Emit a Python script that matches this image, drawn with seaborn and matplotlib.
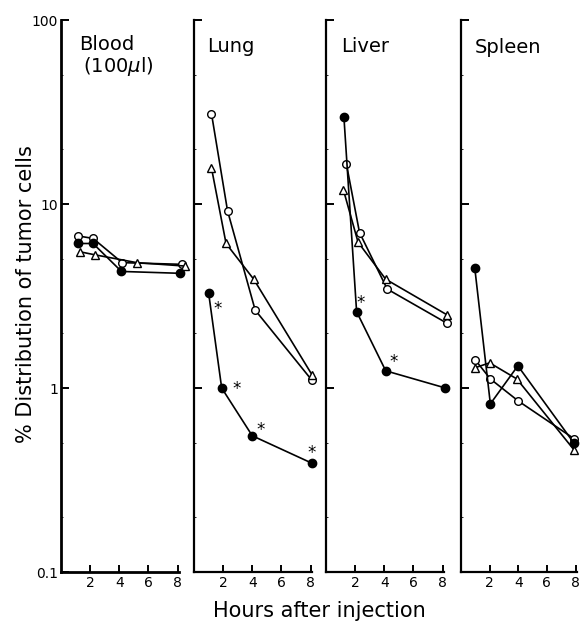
import matplotlib
matplotlib.use("Agg")
import matplotlib.pyplot as plt
import seaborn as sns
from matplotlib.ticker import FixedLocator, FixedFormatter, LogLocator, NullFormatter

# ---------------- data ----------------
organs = ["Blood", "Lung", "Liver", "Spleen"]

blood_open_t = [1.2, 2.2, 4.2, 8.3]
blood_open_v = [6.7, 6.5, 4.8, 4.7]
blood_fill_t = [1.2, 2.2, 4.15, 8.2]
blood_fill_v = [6.1, 6.1, 4.3, 4.2]
blood_tri_t = [1.3, 2.3, 5.2, 8.5]
blood_tri_v = [5.5, 5.3, 4.8, 4.6]

lung_open_t = [1.2, 2.3, 4.2, 8.1]
lung_open_v = [31.0, 9.2, 2.65, 1.1]
lung_tri_t = [1.2, 2.2, 4.1, 8.1]
lung_tri_v = [15.7, 6.1, 3.9, 1.18]
lung_fill_t = [1.0, 1.9, 4.0, 8.1]
lung_fill_v = [3.3, 1.0, 0.55, 0.39]

liver_open_t = [1.4, 2.3, 4.2, 8.3]
liver_open_v = [16.5, 7.0, 3.45, 2.25]
liver_tri_t = [1.2, 2.2, 4.1, 8.3]
liver_tri_v = [11.9, 6.2, 3.9, 2.5]
liver_fill_t = [1.23, 2.1, 4.1, 8.2]
liver_fill_v = [29.7, 2.6, 1.24, 1.0]

spleen_open_t = [1.0, 2.05, 4.0, 7.9]
spleen_open_v = [1.42, 1.12, 0.85, 0.53]
spleen_tri_t = [1.0, 2.0, 3.9, 7.9]
spleen_tri_v = [1.29, 1.37, 1.12, 0.46]
spleen_fill_t = [0.96, 2.05, 3.97, 7.9]
spleen_fill_v = [4.5, 0.82, 1.32, 0.50]

# significance marks: (panel index, index of filled point)
star_panel = [1, 1, 1, 1, 2, 2, 2]
star_point = [0, 1, 2, 3, 1, 2, 3]

y_ticks = [0.1, 1, 10, 100]
y_tick_labels = ["0.1", "1", "10", "100"]
x_ticks = [2, 4, 6, 8]
x_tick_labels = ["2", "4", "6", "8"]

series = {
    "Blood": [(blood_open_t, blood_open_v, "open"), (blood_tri_t, blood_tri_v, "tri"),
              (blood_fill_t, blood_fill_v, "fill")],
    "Lung": [(lung_open_t, lung_open_v, "open"), (lung_tri_t, lung_tri_v, "tri"),
             (lung_fill_t, lung_fill_v, "fill")],
    "Liver": [(liver_open_t, liver_open_v, "open"), (liver_tri_t, liver_tri_v, "tri"),
              (liver_fill_t, liver_fill_v, "fill")],
    "Spleen": [(spleen_open_t, spleen_open_v, "open"), (spleen_tri_t, spleen_tri_v, "tri"),
               (spleen_fill_t, spleen_fill_v, "fill")],
}
filled = [(blood_fill_t, blood_fill_v), (lung_fill_t, lung_fill_v),
          (liver_fill_t, liver_fill_v), (spleen_fill_t, spleen_fill_v)]

# ---------------- style ----------------
sns.set_theme(style="ticks")
plt.rcParams["font.family"] = ["DejaVu Sans"]
plt.rcParams["mathtext.fontset"] = "dejavusans"
plt.rcParams["text.color"] = "black"
plt.rcParams["axes.labelcolor"] = "black"
plt.rcParams["xtick.color"] = "black"
plt.rcParams["ytick.color"] = "black"

W, H = 581, 623
fig = plt.figure(figsize=(W / 100, H / 100), dpi=100)
fig.patch.set_facecolor("white")

panel_left_px = [61, 194, 326, 461]
panel_w_px = [118, 118, 118, 116]
bottom_px = 51
height_px = 552

marker_style = {
    "open": dict(marker="o", markerfacecolor="white", markersize=5.5),
    "tri": dict(marker="^", markerfacecolor="white", markersize=5.5),
    "fill": dict(marker="o", markerfacecolor="black", markersize=6),
}

title_pos = {
    "Blood": (0.153, 0.9457),
    "Lung": (0.11, 0.942),
    "Liver": (0.127, 0.942),
    "Spleen": (0.12, 0.940),
}

star_offsets = [(9, -11), (15, 4), (8, 11), (0, 15), (4, 14), (8, 14), (0, 12)]

axes = []
for i, organ in enumerate(organs):
    ax = fig.add_axes([panel_left_px[i] / W, bottom_px / H, panel_w_px[i] / W, height_px / H])
    ax.patch.set_alpha(0)
    ax.set_yscale("log")
    ax.set_ylim(0.1, 100)
    ax.set_xlim(0, 8.1)
    for s in ["top", "right"]:
        ax.spines[s].set_visible(False)
    for s in ["left", "bottom"]:
        ax.spines[s].set_color("black")
        ax.spines[s].set_linewidth(2.0 if i == 0 else 1.6)

    ax.yaxis.set_major_locator(FixedLocator(y_ticks))
    ax.yaxis.set_major_formatter(FixedFormatter(y_tick_labels))
    ax.yaxis.set_minor_locator(LogLocator(base=10, subs=[2, 5]))
    ax.yaxis.set_minor_formatter(NullFormatter())
    ax.xaxis.set_major_locator(FixedLocator(x_ticks))
    ax.xaxis.set_major_formatter(FixedFormatter(x_tick_labels))

    ax.tick_params(axis="y", which="major", direction="in", length=6, width=1.4,
                   colors="black", labelsize=10, pad=2, labelleft=(i == 0))
    ax.tick_params(axis="y", which="minor", direction="in", length=1.5, width=0.6, colors="black")
    ax.tick_params(axis="x", which="major", direction="in", length=5, width=1.4,
                   colors="black", labelsize=10, pad=3)

    for t, v, kind in series[organ]:
        sns.lineplot(x=t, y=v, ax=ax, color="black", linewidth=1.2, errorbar=None,
                     markeredgecolor="black", markeredgewidth=1.0, clip_on=False,
                     **marker_style[kind])
    ax.set_xlabel("")
    ax.set_ylabel("")

    tx, ty = title_pos[organ]
    ax.text(tx, ty, organ, transform=ax.transAxes, fontsize=14, ha="left", va="baseline",
            color="black")
    axes.append(ax)

axes[0].text(0.187, 0.9058, "(100$\\mu$l)", transform=axes[0].transAxes, fontsize=14,
             ha="left", va="baseline", color="black")

# significance asterisks
for k, (p, j) in enumerate(zip(star_panel, star_point)):
    ft, fv = filled[p]
    dx, dy = star_offsets[k]
    axes[p].annotate("*", xy=(ft[j], fv[j]), xytext=(dx, dy - 10), textcoords="offset pixels",
                     ha="center", va="baseline", fontsize=12, color="black")

fig.text(32 / W, 1 - 294.5 / H, "% Distribution of tumor cells", rotation=90,
         rotation_mode="anchor", ha="center", va="baseline", fontsize=15, color="black")
fig.text(319 / W, 1 - 617 / H, "Hours after injection", ha="center", va="baseline",
         fontsize=15, color="black")

fig.savefig("out.png", dpi=100, facecolor="white")
